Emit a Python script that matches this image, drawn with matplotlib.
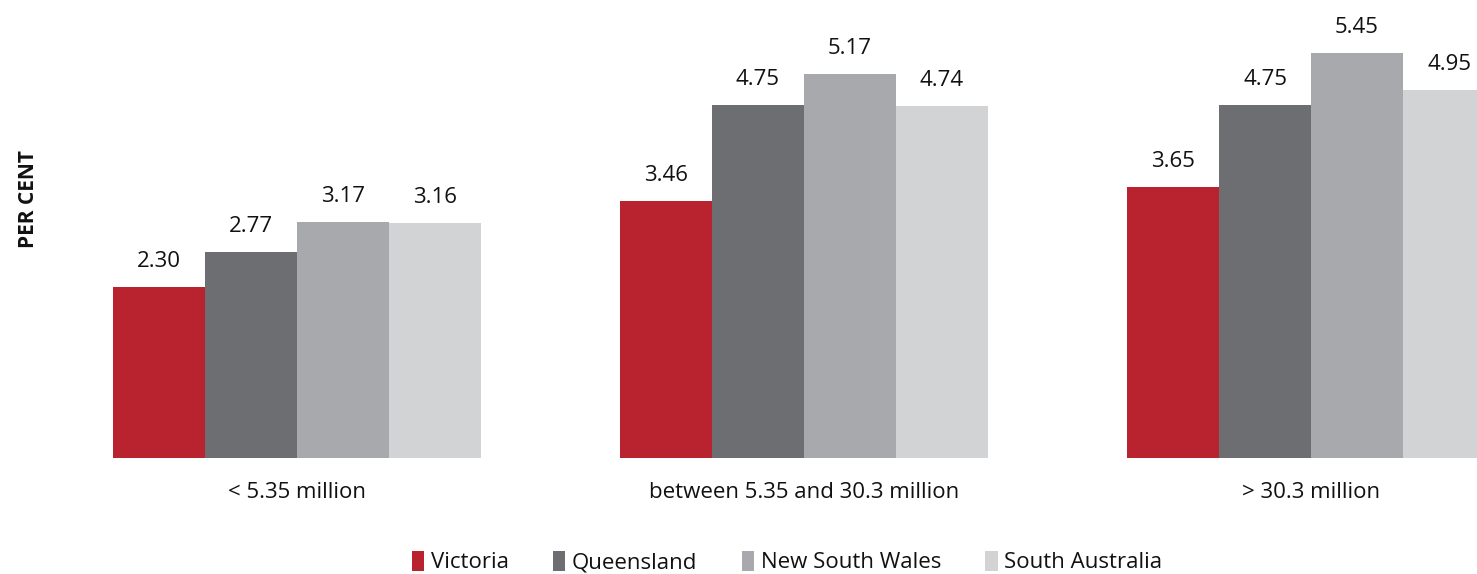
import matplotlib
matplotlib.use("Agg")
import matplotlib.pyplot as plt
import numpy as np

plt.rcParams['font.family'] = ['Open Sans', 'DejaVu Sans']

# data
categories = ["< 5.35 million", "between 5.35 and 30.3 million", "> 30.3 million"]
states = ["Victoria", "Queensland", "New South Wales", "South Australia"]
values = {
    "Victoria": [2.30, 3.46, 3.65],
    "Queensland": [2.77, 4.75, 4.75],
    "New South Wales": [3.17, 5.17, 5.45],
    "South Australia": [3.16, 4.74, 4.95],
}
colors = {
    "Victoria": "#B8232F",
    "Queensland": "#6D6E71",
    "New South Wales": "#A7A9AC",
    "South Australia": "#D1D3D4",
}

W, H = 1477, 574
fig = plt.figure(figsize=(W / 100, H / 100), dpi=100)
# axes in pixel terms: left 60, bottom at y=458 from top, top at 0
ax = fig.add_axes([60 / W, (H - 458) / H, 1 - 60 / W, 458 / H])

barWidth = 92 / 507
x = np.arange(len(categories))
for i, state in enumerate(states):
    offs = (i - 1.5) * barWidth
    bars = ax.bar(x + offs, values[state], width=barWidth, color=colors[state],
                  label=state, linewidth=0)
    for b, v in zip(bars, values[state]):
        ax.annotate(f"{v:.2f}", (b.get_x() + b.get_width() / 2, v),
                    xytext=(0, 11), textcoords="offset points",
                    ha="center", va="bottom", fontsize=16, color="#111111")

ax.set_xlim((60 - 297) / 507, (1477 - 297) / 507)
ax.set_ylim(0, 458 / 74.3)
ax.set_yticks([])
ax.set_xticks(x)
ax.set_xticklabels(categories, fontsize=16, color="#111111")
ax.tick_params(axis="x", length=0, pad=17)
for s in ax.spines.values():
    s.set_visible(False)

fig.text(28 / W, 1 - 199 / H, "PER CENT", rotation=90, ha="center", va="center",
         fontsize=15, fontweight="bold", color="#111111")

leg = fig.legend(loc="center", bbox_to_anchor=(787 / W, 1 - 562 / H), ncol=4,
                 frameon=False, fontsize=16, handlelength=0.55, handleheight=1.0,
                 handletextpad=0.3, columnspacing=2.0)
for t in leg.get_texts():
    t.set_color("#111111")

fig.savefig("out.png", dpi=100)
